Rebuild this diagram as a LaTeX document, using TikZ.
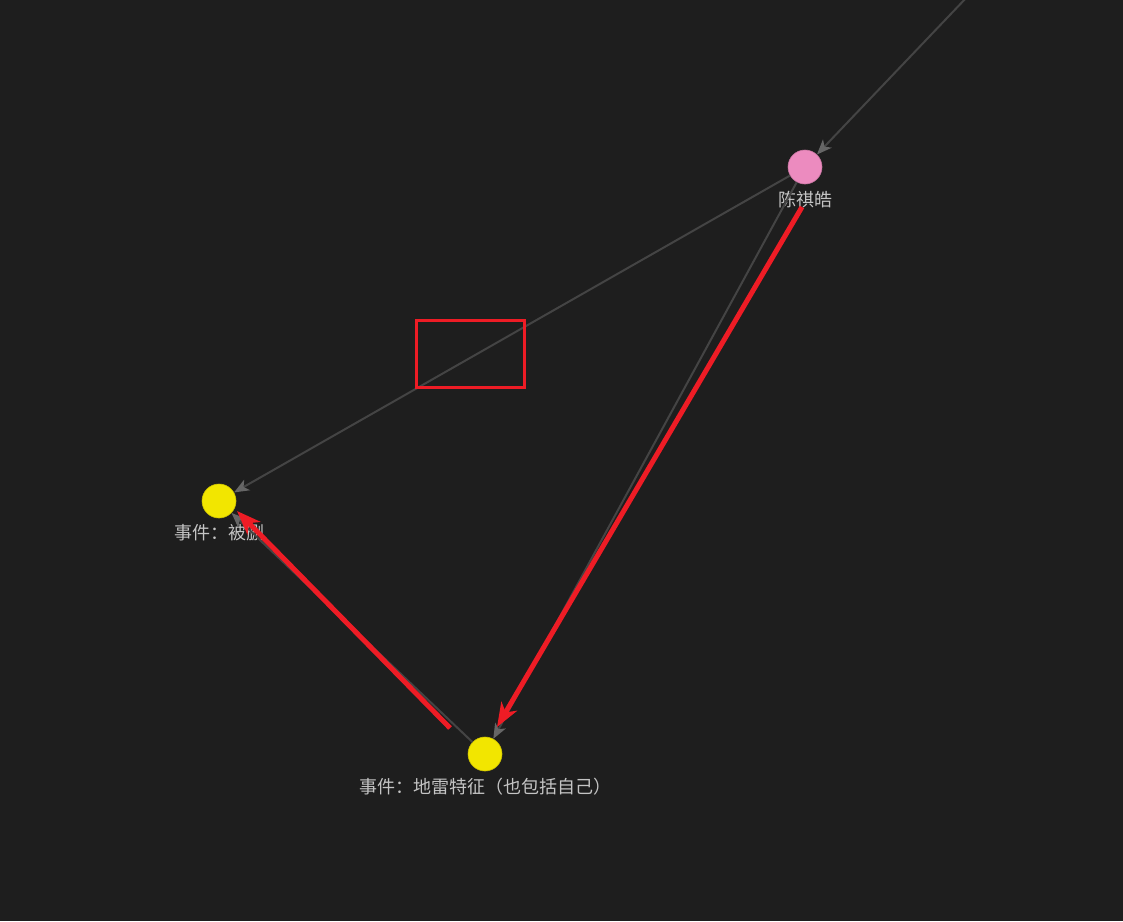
\documentclass[tikz,border=0pt]{standalone}
\usepackage{fontspec}
\newfontfamily\cjk{Noto Sans CJK SC}
\usetikzlibrary{arrows.meta,positioning}

\definecolor{bgdark}{HTML}{1E1E1E}
\definecolor{edgegray}{HTML}{444444}
\definecolor{tipgray}{HTML}{666666}
\definecolor{nodeyellow}{HTML}{F2E600}
\definecolor{nodepink}{HTML}{EC8BBF}
\definecolor{marker}{HTML}{EE1C25}
\definecolor{labelgray}{HTML}{C4C4C4}

\tikzset{
  entity/.style={circle,minimum size=34pt,inner sep=0pt,fill=#1,draw=#1!85!black,line width=0.6pt},
  namelabel/.style={labelgray,font=\cjk\fontsize{18}{21}\selectfont,label distance=3pt},
  link/.style={draw=edgegray,line width=2pt,-{Stealth[length=15pt,width=12pt,inset=4pt,fill=tipgray,color=tipgray]}},
  redmark/.style={draw=marker,line width=5pt,-{Stealth[length=24pt,width=18pt,inset=7pt]}}
}

\begin{document}
\begin{tikzpicture}[x=1pt,y=-1pt]
  \fill[bgdark] (0,0) rectangle (1123,921);
  \useasboundingbox (0,0) rectangle (1123,921);

  \node[entity=nodepink,label={[namelabel]below:陈祺皓}] (chen) at (805,167) {};
  \node[entity=nodeyellow,label={[namelabel]below:事件：被删}] (deleted) at (219,501) {};
  \node[entity=nodeyellow,label={[namelabel]below:事件：地雷特征（也包括自己）}] (mine) at (485,754) {};
  \coordinate (offtop) at (968,-4);

  % graph edges
  \foreach \a/\b in {offtop/chen,chen/deleted,chen/mine,mine/deleted}
    \draw[link] (\a) -- (\b);

  % red annotations
  \coordinate (m1s) at (802,207);
  \coordinate (m1e) at (497,727);
  \coordinate (m2s) at (450,728);
  \coordinate (m2e) at (237,511);
  \draw[redmark] (m1s) -- (m1e);
  \draw[redmark] (m2s) -- (m2e);
  \draw[marker,line width=3pt] (416,320) rectangle (524,387);
\end{tikzpicture}
\end{document}
